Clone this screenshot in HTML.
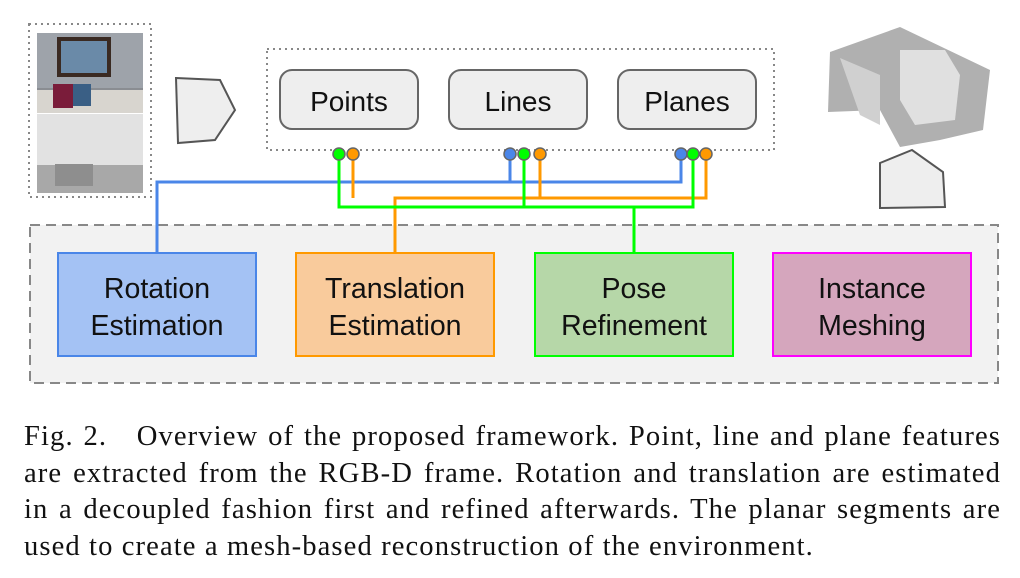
<!DOCTYPE html>
<html><head><style>
body{margin:0;width:1020px;height:578px;background:#fff;position:relative;overflow:hidden;font-family:"Liberation Sans",sans-serif}
.cap{position:absolute;left:24px;top:419px;width:977px;font-family:"Liberation Serif",serif;font-size:28.6px;line-height:36.5px;color:#111;letter-spacing:1.1px}
.cap div{text-align:justify;text-align-last:justify;white-space:nowrap}
</style></head><body>
<svg width="1020" height="400" style="position:absolute;left:0;top:0" font-family="Liberation Sans, sans-serif">
<rect x="29" y="24" width="122" height="173" fill="none" stroke="#888" stroke-width="2" stroke-dasharray="2,4"/>
<rect x="37" y="33" width="106" height="80" fill="#8a8d92"/>
<rect x="37" y="33" width="106" height="55" fill="#9ea3aa"/>
<rect x="57" y="37" width="54" height="40" fill="#3a2a22"/>
<rect x="61" y="41" width="46" height="32" fill="#6a8aa8"/>
<rect x="37" y="90" width="106" height="23" fill="#d8d5cf"/>
<rect x="53" y="84" width="20" height="24" fill="#7a1c3a"/>
<rect x="73" y="84" width="18" height="22" fill="#3a5f85"/>
<rect x="37" y="114" width="106" height="79" fill="#e2e2e2"/>
<rect x="37" y="165" width="106" height="28" fill="#a8a8a8"/>
<rect x="55" y="164" width="38" height="22" fill="#8e8e8e"/>
<polygon points="176,78 220,80 235,110 215,140 178,143" fill="#eee" stroke="#555" stroke-width="2"/>
<rect x="267" y="49" width="507" height="101" fill="none" stroke="#888" stroke-width="2" stroke-dasharray="2,4"/>
<g fill="#eee" stroke="#666" stroke-width="2">
<rect x="280" y="70" width="138" height="59" rx="12"/>
<rect x="449" y="70" width="138" height="59" rx="12"/>
<rect x="618" y="70" width="138" height="59" rx="12"/>
</g>
<g font-size="28" text-anchor="middle" fill="#111">
<text x="349" y="111">Points</text><text x="518" y="111">Lines</text><text x="687" y="111">Planes</text>
</g>
<polygon points="830,52 900,27 990,70 983,130 940,140 900,147 880,110 828,112" fill="#b0b0b0"/>
<polygon points="900,50 945,50 960,75 955,120 915,125 900,100" fill="#e0e0e0"/>
<polygon points="840,58 880,75 880,125 860,115" fill="#d0d0d0"/>
<polygon points="880,163 912,150 943,172 945,207 880,208" fill="#eee" stroke="#555" stroke-width="2"/>
<rect x="30" y="225" width="968" height="158" fill="#f2f2f2" stroke="#888" stroke-width="2" stroke-dasharray="10,6"/>
<g fill="none" stroke-width="3">
<polyline points="157,253 157,182 681,182 681,154" stroke="#4a86e8"/>
<line x1="510" y1="182" x2="510" y2="154" stroke="#4a86e8"/>
<polyline points="395,253 395,198 706,198 706,154" stroke="#ff9900"/>
<polyline points="353,154 353,198" stroke="#ff9900"/>
<line x1="540" y1="198" x2="540" y2="154" stroke="#ff9900"/>
<polyline points="634,253 634,207" stroke="#00ff00"/>
<polyline points="339,154 339,207 693,207 693,154" stroke="#00ff00"/>
<line x1="524" y1="207" x2="524" y2="154" stroke="#00ff00"/>
</g>
<g stroke="#666" stroke-width="1.5">
<circle cx="339" cy="154" r="6" fill="#00ff00"/><circle cx="353" cy="154" r="6" fill="#ff9900"/>
<circle cx="510" cy="154" r="6" fill="#4a86e8"/><circle cx="524" cy="154" r="6" fill="#00ff00"/><circle cx="540" cy="154" r="6" fill="#ff9900"/>
<circle cx="681" cy="154" r="6" fill="#4a86e8"/><circle cx="693" cy="154" r="6" fill="#00ff00"/><circle cx="706" cy="154" r="6" fill="#ff9900"/>
</g>
<rect x="58" y="253" width="198" height="103" fill="#a4c2f4" stroke="#4a86e8" stroke-width="2"/>
<rect x="296" y="253" width="198" height="103" fill="#f9cb9c" stroke="#ff9900" stroke-width="2"/>
<rect x="535" y="253" width="198" height="103" fill="#b6d7a8" stroke="#00ff00" stroke-width="2"/>
<rect x="773" y="253" width="198" height="103" fill="#d5a6bd" stroke="#ff00ff" stroke-width="2"/>
<g font-size="28.5" text-anchor="middle" fill="#111">
<text x="157" y="298">Rotation</text><text x="157" y="335">Estimation</text>
<text x="395" y="298">Translation</text><text x="395" y="335">Estimation</text>
<text x="634" y="298">Pose</text><text x="634" y="335">Refinement</text>
<text x="872" y="298">Instance</text><text x="872" y="335">Meshing</text>
</g>
</svg>
<div class="cap">
<div style="word-spacing:-3px">Fig. 2.&nbsp;&nbsp;&nbsp;Overview of the proposed framework. Point, line and plane features</div>
<div>are extracted from the RGB-D frame. Rotation and translation are estimated</div>
<div>in a decoupled fashion first and refined afterwards. The planar segments are</div>
<div style="text-align-last:left">used to create a mesh-based reconstruction of the environment.</div>
</div>
</body></html>
